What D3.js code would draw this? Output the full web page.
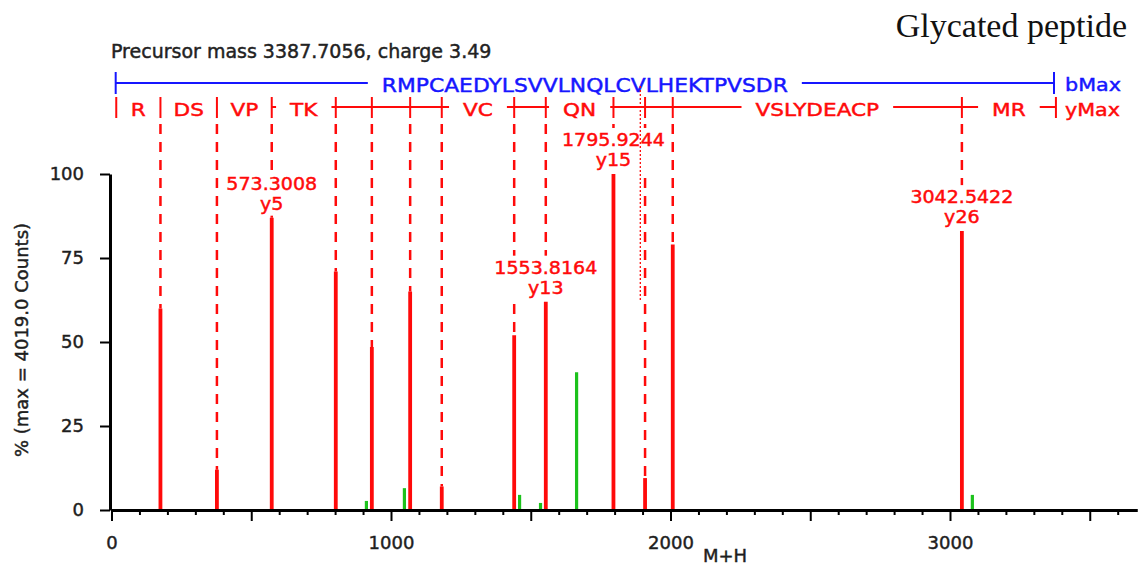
<!DOCTYPE html>
<html>
<head>
<meta charset="utf-8">
<script src="https://cdn.jsdelivr.net/npm/d3@7"></script>
<style>
  body { margin: 0; background: #fff; }
  svg { display: block; font-family: "DejaVu Sans", sans-serif; }
  .heavy { stroke-width: 0.45px; paint-order: stroke; }
</style>
</head>
<body>
<div class="chart"></div>
<script>
var svgWidth = 1141;
var svgHeight = 569;

// matched y ions (red): m/z and relative intensity (%)
var yIonMz = [175.12, 377.18, 573.30, 802.44, 931.49, 1068.54, 1181.63, 1440.73, 1553.82, 1795.92, 1909.00, 2008.07, 3042.54];
var yIonInt = [60, 12, 87, 71, 48.5, 65, 7, 52, 62, 100, 9.5, 79, 83];

// residues between consecutive y ions, first/last end of the y row
var yRowEnds = [17, 3379];
var yRowLabels = ["R", "DS", "VP", "TK", "", "", "", "VC", "", "QN", "", "", "VSLYDEACP", "MR"];

// b row
var bRowEnds = [15, 3372];
var sequence = "RMPCAEDYLSVVLNQLCVLHEKTPVSDR";

// unmatched peaks (green)
var otherMz = [912, 1048, 1460, 1535, 1664, 3080];
var otherInt = [2.7, 6.5, 4.5, 2.1, 41, 4.5];

// annotated peaks
var labelMz = [573.3008, 1553.8164, 1795.9244, 3042.5422];
var labelIon = ["y5", "y13", "y15", "y26"];

// dotted marker
var markerMz = [1892];
var markerInt = [62];

var xTicks = d3.range(0, 3601, 100);
var yTicks = [0, 25, 50, 75, 100];

var red = "#ff0a0a", blue = "#1616ff", green = "#1cc21c", ink = "#1e1e1e";

var svg = d3.select(".chart")
  .append("svg")
  .attr("width", svgWidth)
  .attr("height", svgHeight);

var x = d3.scaleLinear().domain([0, 3670]).range([111.5, 111.5 + 3670 * 0.2795]);
var y = d3.scaleLinear().domain([0, 100]).range([510, 174]);

function stretch(sel, k) {
  sel.each(function() {
    var w = this.getComputedTextLength();
    d3.select(this).attr("textLength", w * k).attr("lengthAdjust", "spacingAndGlyphs");
  });
}

// colour + slight outline so the text reads as heavy as the original
function ink_(sel, c) {
  sel.attr("fill", c).attr("stroke", c).classed("heavy", true);
}

// title + header
svg.append("text")
  .attr("x", 1127).attr("y", 37)
  .attr("text-anchor", "end")
  .style("font-family", "'Liberation Serif', 'Times New Roman', serif")
  .attr("font-size", 34)
  .attr("fill", "#111")
  .text("Glycated peptide");

svg.append("text")
  .attr("x", 111).attr("y", 58)
  .attr("font-size", 19)
  .text("Precursor mass 3387.7056, charge 3.49")
  .call(ink_, "#222");

// b row (blue)
var bY = 83;
var bA = x(bRowEnds[0]), bB = x(bRowEnds[1]), bMid = (bA + bB) / 2;
svg.append("text")
  .attr("x", bMid).attr("y", 92)
  .attr("text-anchor", "middle")
  .attr("font-size", 19)
  .text(sequence)
  .attr("textLength", 406).attr("lengthAdjust", "spacingAndGlyphs")
  .call(ink_, blue);
var seqW = 406, pad = 14;
svg.append("line").attr("x1", bA).attr("x2", bMid - seqW / 2 - pad).attr("y1", bY).attr("y2", bY)
  .attr("stroke", blue).attr("stroke-width", 2);
svg.append("line").attr("x1", bMid + seqW / 2 + pad).attr("x2", bB).attr("y1", bY).attr("y2", bY)
  .attr("stroke", blue).attr("stroke-width", 2);
[bA, bB].forEach(function(px) {
  svg.append("line").attr("x1", px).attr("x2", px).attr("y1", 72).attr("y2", 94)
    .attr("stroke", blue).attr("stroke-width", 2);
});
svg.append("text").attr("x", 1065).attr("y", 91).attr("font-size", 18)
  .text("bMax").call(stretch, 1.15).call(ink_, blue);

// y row (red)
var rY = 107;
var bounds = [yRowEnds[0]].concat(yIonMz, [yRowEnds[1]]);
var rowG = svg.append("g");
bounds.forEach(function(m) {
  rowG.append("line").attr("x1", x(m)).attr("x2", x(m)).attr("y1", 97).attr("y2", 118)
    .attr("stroke", red).attr("stroke-width", 2);
});
yRowLabels.forEach(function(lab, i) {
  var a = x(bounds[i]), b = x(bounds[i + 1]), mid = (a + b) / 2;
  if (!lab) {
    rowG.append("line").attr("x1", a).attr("x2", b).attr("y1", rY).attr("y2", rY)
      .attr("stroke", red).attr("stroke-width", 2);
    return;
  }
  var t = rowG.append("text")
    .attr("x", mid).attr("y", 115.5)
    .attr("text-anchor", "middle")
    .attr("font-size", 18)
    .text(lab)
    .call(stretch, 1.2)
    .call(ink_, red);
  var w = +t.attr("textLength");
  var l = mid - w / 2 - pad, r = mid + w / 2 + pad;
  if (l - a > 1) rowG.append("line").attr("x1", a).attr("x2", l).attr("y1", rY).attr("y2", rY)
    .attr("stroke", red).attr("stroke-width", 2);
  if (b - r > 1) rowG.append("line").attr("x1", r).attr("x2", b).attr("y1", rY).attr("y2", rY)
    .attr("stroke", red).attr("stroke-width", 2);
});
svg.append("text").attr("x", 1065).attr("y", 115.5).attr("font-size", 18)
  .text("yMax").call(stretch, 1.15).call(ink_, red);

// dashed guides from y row to matched peaks
var ions = yIonMz.map(function(m, i) { return { mz: m, val: yIonInt[i] }; });
svg.append("g").selectAll("line")
  .data(ions).enter().append("line")
  .attr("x1", d => x(d.mz)).attr("x2", d => x(d.mz))
  .attr("y1", 124).attr("y2", d => y(d.val))
  .attr("stroke", red).attr("stroke-width", 2.5)
  .attr("stroke-dasharray", "10,8");

// peaks
svg.append("g").selectAll("line")
  .data(ions).enter().append("line")
  .attr("x1", d => x(d.mz)).attr("x2", d => x(d.mz))
  .attr("y1", y(0)).attr("y2", d => y(d.val))
  .attr("stroke", red).attr("stroke-width", 3.8);

var others = otherMz.map(function(m, i) { return { mz: m, val: otherInt[i] }; });
svg.append("g").selectAll("line")
  .data(others).enter().append("line")
  .attr("x1", d => x(d.mz)).attr("x2", d => x(d.mz))
  .attr("y1", y(0)).attr("y2", d => y(d.val))
  .attr("stroke", green).attr("stroke-width", 3.2);

// peak annotations
var labG = svg.append("g");
labelMz.forEach(function(m, i) {
  var j = d3.minIndex(yIonMz, v => Math.abs(v - m));
  var px = x(yIonMz[j]), top = y(yIonInt[j]);
  var g = labG.append("g");
  var bg = g.append("rect").attr("fill", "#fff");
  var t1 = g.append("text").attr("x", px).attr("y", top - 28)
    .attr("text-anchor", "middle").attr("font-size", 17)
    .text(m.toFixed(4)).call(stretch, 1.12).call(ink_, red);
  g.append("text").attr("x", px).attr("y", top - 8)
    .attr("text-anchor", "middle").attr("font-size", 17)
    .text(labelIon[i]).call(stretch, 1.12).call(ink_, red);
  var w = +t1.attr("textLength");
  bg.attr("x", px - w / 2 - 2).attr("width", w + 4)
    .attr("y", top - 46).attr("height", 44);
});

// dotted marker
svg.append("g").selectAll("line")
  .data(markerMz).enter().append("line")
  .attr("x1", d => x(d)).attr("x2", d => x(d))
  .attr("y1", 86).attr("y2", (d, i) => y(markerInt[i]))
  .attr("stroke", red).attr("stroke-width", 1.3)
  .attr("stroke-dasharray", "2,2");

// axes
var xAxis = svg.append("g")
  .attr("transform", `translate(0, ${y(0)})`)
  .call(d3.axisBottom(x).tickValues(xTicks).tickSize(5).tickSizeOuter(0)
    .tickFormat(d => d % 1000 === 0 ? d : ""));
xAxis.attr("font-family", null).attr("font-size", null);
xAxis.select(".domain").attr("stroke", "#000").attr("stroke-width", 3);
xAxis.selectAll(".tick line").attr("stroke", "#000").attr("stroke-width", 2)
  .attr("y2", d => d % 500 === 0 ? 11 : 5);
xAxis.selectAll(".tick text").attr("y", 26).attr("font-size", 18).call(ink_, ink);

var yAxis = svg.append("g")
  .attr("transform", "translate(110, 0)")
  .call(d3.axisLeft(y).tickValues(yTicks).tickSize(10).tickPadding(16).tickSizeOuter(0));
yAxis.attr("font-family", null).attr("font-size", null);
yAxis.select(".domain").attr("stroke", "#000").attr("stroke-width", 3);
yAxis.selectAll(".tick line").attr("stroke", "#000").attr("stroke-width", 2);
yAxis.selectAll(".tick text").attr("font-size", 18).call(ink_, ink);

svg.append("text")
  .attr("x", 725).attr("y", 562)
  .attr("text-anchor", "middle")
  .attr("font-size", 18)
  .text("M+H")
  .call(ink_, ink);

svg.append("text")
  .attr("transform", "translate(28, 340) rotate(-90)")
  .attr("text-anchor", "middle")
  .attr("font-size", 18)
  .text("% (max = 4019.0 Counts)")
  .call(ink_, ink);
</script>
</body>
</html>
